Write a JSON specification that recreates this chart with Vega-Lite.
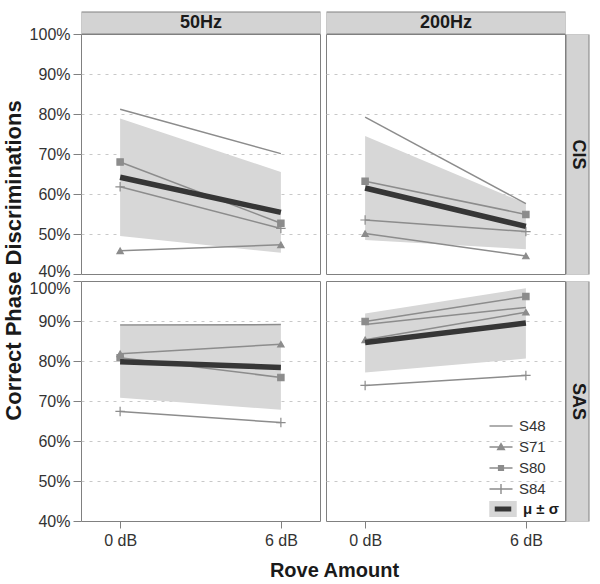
{
  "$schema": "https://vega.github.io/schema/vega-lite/v6.json",
  "padding": {"left": 1, "top": 13, "right": 5, "bottom": 5},
  "config": {
    "font": "Liberation Sans",
    "view": {"stroke": "#808080", "strokeWidth": 1},
    "axis": {"labelFont": "Liberation Sans", "titleFont": "Liberation Sans"},
    "legend": {"labelFont": "Liberation Sans"}
  },
  "datasets": {
    "obs": [
      {"freq": "50Hz", "cond": "CIS", "subject": "S48", "rove": 0, "pct": 81.2},
      {"freq": "50Hz", "cond": "CIS", "subject": "S48", "rove": 6, "pct": 70.1},
      {"freq": "50Hz", "cond": "CIS", "subject": "S71", "rove": 0, "pct": 45.8},
      {"freq": "50Hz", "cond": "CIS", "subject": "S71", "rove": 6, "pct": 47.3},
      {"freq": "50Hz", "cond": "CIS", "subject": "S80", "rove": 0, "pct": 68.0},
      {"freq": "50Hz", "cond": "CIS", "subject": "S80", "rove": 6, "pct": 52.7},
      {"freq": "50Hz", "cond": "CIS", "subject": "S84", "rove": 0, "pct": 61.8},
      {"freq": "50Hz", "cond": "CIS", "subject": "S84", "rove": 6, "pct": 51.4},
      {"freq": "200Hz", "cond": "CIS", "subject": "S48", "rove": 0, "pct": 79.2},
      {"freq": "200Hz", "cond": "CIS", "subject": "S48", "rove": 6, "pct": 57.6},
      {"freq": "200Hz", "cond": "CIS", "subject": "S71", "rove": 0, "pct": 50.1},
      {"freq": "200Hz", "cond": "CIS", "subject": "S71", "rove": 6, "pct": 44.5},
      {"freq": "200Hz", "cond": "CIS", "subject": "S80", "rove": 0, "pct": 63.2},
      {"freq": "200Hz", "cond": "CIS", "subject": "S80", "rove": 6, "pct": 54.9},
      {"freq": "200Hz", "cond": "CIS", "subject": "S84", "rove": 0, "pct": 53.5},
      {"freq": "200Hz", "cond": "CIS", "subject": "S84", "rove": 6, "pct": 50.6},
      {"freq": "50Hz", "cond": "SAS", "subject": "S48", "rove": 0, "pct": 89.0},
      {"freq": "50Hz", "cond": "SAS", "subject": "S48", "rove": 6, "pct": 89.1},
      {"freq": "50Hz", "cond": "SAS", "subject": "S71", "rove": 0, "pct": 81.8},
      {"freq": "50Hz", "cond": "SAS", "subject": "S71", "rove": 6, "pct": 84.2},
      {"freq": "50Hz", "cond": "SAS", "subject": "S80", "rove": 0, "pct": 80.8},
      {"freq": "50Hz", "cond": "SAS", "subject": "S80", "rove": 6, "pct": 75.9},
      {"freq": "50Hz", "cond": "SAS", "subject": "S84", "rove": 0, "pct": 67.4},
      {"freq": "50Hz", "cond": "SAS", "subject": "S84", "rove": 6, "pct": 64.6},
      {"freq": "200Hz", "cond": "SAS", "subject": "S48", "rove": 0, "pct": 89.1},
      {"freq": "200Hz", "cond": "SAS", "subject": "S48", "rove": 6, "pct": 93.4},
      {"freq": "200Hz", "cond": "SAS", "subject": "S71", "rove": 0, "pct": 85.3},
      {"freq": "200Hz", "cond": "SAS", "subject": "S71", "rove": 6, "pct": 92.2},
      {"freq": "200Hz", "cond": "SAS", "subject": "S80", "rove": 0, "pct": 89.9},
      {"freq": "200Hz", "cond": "SAS", "subject": "S80", "rove": 6, "pct": 96.1},
      {"freq": "200Hz", "cond": "SAS", "subject": "S84", "rove": 0, "pct": 73.9},
      {"freq": "200Hz", "cond": "SAS", "subject": "S84", "rove": 6, "pct": 76.4}
    ],
    "stats": [
      {"freq": "50Hz", "cond": "CIS", "rove": 0, "mean": 64.2, "lo": 49.5, "hi": 78.9},
      {"freq": "50Hz", "cond": "CIS", "rove": 6, "mean": 55.4, "lo": 45.3, "hi": 65.5},
      {"freq": "200Hz", "cond": "CIS", "rove": 0, "mean": 61.5, "lo": 48.5, "hi": 74.5},
      {"freq": "200Hz", "cond": "CIS", "rove": 6, "mean": 51.9, "lo": 46.2, "hi": 57.6},
      {"freq": "50Hz", "cond": "SAS", "rove": 0, "mean": 79.8, "lo": 70.8, "hi": 88.8},
      {"freq": "50Hz", "cond": "SAS", "rove": 6, "mean": 78.4, "lo": 67.8, "hi": 89.1},
      {"freq": "200Hz", "cond": "SAS", "rove": 0, "mean": 84.6, "lo": 77.1, "hi": 91.9},
      {"freq": "200Hz", "cond": "SAS", "rove": 6, "mean": 89.5, "lo": 80.6, "hi": 98.2}
    ]
  },
  "columns": 2,
  "spacing": {"row": 7, "column": 6},
  "bounds": "flush",
  "resolve": {"scale": {"shape": "independent", "stroke": "independent"}, "legend": {"shape": "independent", "stroke": "independent"}},
  "concat": [
    {
      "width": 239, "height": 240,
      "resolve": {"axis": {"x": "independent", "y": "independent"}},
      "layer": [
        {
          "data": {"name": "stats"},
          "transform": [{"filter": "datum.freq === '50Hz' && datum.cond === 'CIS'"}],
          "mark": {"type": "area", "color": "#d7d7d7", "opacity": 1},
          "encoding": {
            "x": {"field": "rove", "type": "quantitative", "scale": {"domain": [-1.46, 7.46], "nice": false, "zero": false},
              "axis": {"orient": "top", "offset": 11.5, "domainWidth": 23, "domainColor": "#808080", "labels": false, "ticks": false, "grid": false, "title": null, "zindex": 1}},
            "y": {"field": "lo", "type": "quantitative", "scale": {"domain": [40, 100], "nice": false, "zero": false},
              "axis": {"orient": "left", "values": [40, 50, 60, 70, 80, 90, 100], "labelExpr": "datum.value + '%'", "labelFontSize": 16, "labelColor": "#333333", "labelPadding": 3,
                "labelOffset": {"condition": {"test": "datum.value === 40", "value": -3}, "value": 0},
                "ticks": true, "tickSize": 8, "tickColor": "#808080", "domain": false,
                "grid": true, "gridColor": "#c8c8c8", "gridDash": [3, 5], "gridOpacity": {"condition": {"test": "datum.value === 40 || datum.value === 100", "value": 0}, "value": 1},
                "title": "Correct Phase Discriminations", "titleY": 226, "titleFontSize": 22, "titleFontWeight": "bold", "titleColor": "#1a1a1a", "titlePadding": 4}},
            "y2": {"field": "hi"}
          }
        },
        {
          "data": {"name": "obs"},
          "transform": [{"filter": "datum.freq === '50Hz' && datum.cond === 'CIS'"}],
          "mark": {"type": "line", "color": "#8c8c8c", "strokeWidth": 1.5},
          "encoding": {
            "x": {"field": "rove", "type": "quantitative", "scale": {"domain": [-1.46, 7.46], "nice": false, "zero": false},
              "axis": {"orient": "top", "offset": 11.5, "domainWidth": 21, "domainColor": "#d3d3d3", "labels": false, "ticks": false, "grid": false, "zindex": 2,
                "title": "50Hz", "titleX": 119.5, "titleY": 0, "titleAlign": "center", "titleBaseline": "middle", "titleAngle": 0, "titleFontSize": 18, "titleFontWeight": "bold", "titleColor": "#1a1a1a"}},
            "y": {"field": "pct", "type": "quantitative", "scale": {"domain": [40, 100], "nice": false, "zero": false}, "axis": null},
            "detail": {"field": "subject"}
          }
        },
        {
          "data": {"name": "obs"},
          "transform": [{"filter": "datum.freq === '50Hz' && datum.cond === 'CIS' && datum.subject !== 'S48'"}],
          "mark": {"type": "point", "filled": true, "fill": "#8c8c8c", "stroke": "#8c8c8c", "strokeWidth": 1.2, "size": 40, "opacity": 1},
          "encoding": {
            "x": {"field": "rove", "type": "quantitative", "scale": {"domain": [-1.46, 7.46], "nice": false, "zero": false}, "axis": null},
            "y": {"field": "pct", "type": "quantitative", "scale": {"domain": [40, 100], "nice": false, "zero": false}, "axis": null},
            "shape": {"field": "subject", "type": "nominal", "scale": {"domain": ["S71", "S80", "S84"], "range": ["triangle-up", "square", "M-1.5,0H1.5M0,-1.5V1.5"]}, "legend": null}
          }
        },
        {
          "data": {"name": "stats"},
          "transform": [{"filter": "datum.freq === '50Hz' && datum.cond === 'CIS'"}],
          "mark": {"type": "line", "color": "#363636", "strokeWidth": 5.5},
          "encoding": {
            "x": {"field": "rove", "type": "quantitative", "scale": {"domain": [-1.46, 7.46], "nice": false, "zero": false}, "axis": null},
            "y": {"field": "mean", "type": "quantitative", "scale": {"domain": [40, 100], "nice": false, "zero": false}, "axis": null}
          }
        }
      ]
    },
    {
      "width": 239, "height": 240,
      "resolve": {"axis": {"x": "independent", "y": "independent"}},
      "layer": [
        {
          "data": {"name": "stats"},
          "transform": [{"filter": "datum.freq === '200Hz' && datum.cond === 'CIS'"}],
          "mark": {"type": "area", "color": "#d7d7d7", "opacity": 1},
          "encoding": {
            "x": {"field": "rove", "type": "quantitative", "scale": {"domain": [-1.46, 7.46], "nice": false, "zero": false},
              "axis": {"orient": "top", "offset": 11.5, "domainWidth": 23, "domainColor": "#808080", "labels": false, "ticks": false, "grid": false, "title": null, "zindex": 1}},
            "y": {"field": "lo", "type": "quantitative", "scale": {"domain": [40, 100], "nice": false, "zero": false},
              "axis": {"orient": "left", "values": [40, 50, 60, 70, 80, 90, 100], "labels": false, "ticks": false, "domain": false,
                "grid": true, "gridColor": "#c8c8c8", "gridDash": [3, 5], "gridOpacity": {"condition": {"test": "datum.value === 40 || datum.value === 100", "value": 0}, "value": 1}, "title": null}},
            "y2": {"field": "hi"}
          }
        },
        {
          "data": {"name": "obs"},
          "transform": [{"filter": "datum.freq === '200Hz' && datum.cond === 'CIS'"}],
          "mark": {"type": "line", "color": "#8c8c8c", "strokeWidth": 1.5},
          "encoding": {
            "x": {"field": "rove", "type": "quantitative", "scale": {"domain": [-1.46, 7.46], "nice": false, "zero": false},
              "axis": {"orient": "top", "offset": 11.5, "domainWidth": 21, "domainColor": "#d3d3d3", "labels": false, "ticks": false, "grid": false, "zindex": 2,
                "title": "200Hz", "titleX": 119.5, "titleY": 0, "titleAlign": "center", "titleBaseline": "middle", "titleAngle": 0, "titleFontSize": 18, "titleFontWeight": "bold", "titleColor": "#1a1a1a"}},
            "y": {"field": "pct", "type": "quantitative", "scale": {"domain": [40, 100], "nice": false, "zero": false},
              "axis": {"orient": "right", "offset": 12, "domainWidth": 24, "domainColor": "#808080", "labels": false, "ticks": false, "grid": false, "title": null, "zindex": 1}},
            "detail": {"field": "subject"}
          }
        },
        {
          "data": {"name": "obs"},
          "transform": [{"filter": "datum.freq === '200Hz' && datum.cond === 'CIS' && datum.subject !== 'S48'"}],
          "mark": {"type": "point", "filled": true, "fill": "#8c8c8c", "stroke": "#8c8c8c", "strokeWidth": 1.2, "size": 40, "opacity": 1},
          "encoding": {
            "x": {"field": "rove", "type": "quantitative", "scale": {"domain": [-1.46, 7.46], "nice": false, "zero": false}, "axis": null},
            "y": {"field": "pct", "type": "quantitative", "scale": {"domain": [40, 100], "nice": false, "zero": false},
              "axis": {"orient": "right", "offset": 12, "domainWidth": 22, "domainColor": "#d3d3d3", "labels": false, "ticks": false, "grid": false, "zindex": 2,
                "title": "CIS", "titleX": 0, "titleY": 120, "titleAngle": 90, "titleAlign": "center", "titleBaseline": "middle", "titleFontSize": 18, "titleFontWeight": "bold", "titleColor": "#1a1a1a"}},
            "shape": {"field": "subject", "type": "nominal", "scale": {"domain": ["S71", "S80", "S84"], "range": ["triangle-up", "square", "M-1.5,0H1.5M0,-1.5V1.5"]}, "legend": null}
          }
        },
        {
          "data": {"name": "stats"},
          "transform": [{"filter": "datum.freq === '200Hz' && datum.cond === 'CIS'"}],
          "mark": {"type": "line", "color": "#363636", "strokeWidth": 5.5},
          "encoding": {
            "x": {"field": "rove", "type": "quantitative", "scale": {"domain": [-1.46, 7.46], "nice": false, "zero": false}, "axis": null},
            "y": {"field": "mean", "type": "quantitative", "scale": {"domain": [40, 100], "nice": false, "zero": false}, "axis": null}
          }
        }
      ]
    },
    {
      "width": 239, "height": 240,
      "resolve": {"axis": {"x": "independent", "y": "independent"}},
      "layer": [
        {
          "data": {"name": "stats"},
          "transform": [{"filter": "datum.freq === '50Hz' && datum.cond === 'SAS'"}],
          "mark": {"type": "area", "color": "#d7d7d7", "opacity": 1},
          "encoding": {
            "x": {"field": "rove", "type": "quantitative", "scale": {"domain": [-1.46, 7.46], "nice": false, "zero": false},
              "axis": {"orient": "bottom", "values": [0, 6], "labelExpr": "datum.value + ' dB'", "labelFontSize": 16, "labelColor": "#333333", "labelPadding": 4,
                "tickSize": 7, "tickColor": "#808080", "domain": false, "grid": false,
                "title": "Rove Amount", "titleX": 253, "titleFontSize": 20, "titleFontWeight": "bold", "titleColor": "#1a1a1a", "titlePadding": 12}},
            "y": {"field": "lo", "type": "quantitative", "scale": {"domain": [40, 100], "nice": false, "zero": false},
              "axis": {"orient": "left", "values": [40, 50, 60, 70, 80, 90, 100], "labelExpr": "datum.value + '%'", "labelFontSize": 16, "labelColor": "#333333", "labelPadding": 3,
                "labelOffset": {"condition": {"test": "datum.value === 100", "value": 7}, "value": 0},
                "ticks": true, "tickSize": 8, "tickColor": "#808080", "domain": false,
                "grid": true, "gridColor": "#c8c8c8", "gridDash": [3, 5], "gridOpacity": {"condition": {"test": "datum.value === 40 || datum.value === 100", "value": 0}, "value": 1},
                "title": null}},
            "y2": {"field": "hi"}
          }
        },
        {
          "data": {"name": "obs"},
          "transform": [{"filter": "datum.freq === '50Hz' && datum.cond === 'SAS'"}],
          "mark": {"type": "line", "color": "#8c8c8c", "strokeWidth": 1.5},
          "encoding": {
            "x": {"field": "rove", "type": "quantitative", "scale": {"domain": [-1.46, 7.46], "nice": false, "zero": false}, "axis": null},
            "y": {"field": "pct", "type": "quantitative", "scale": {"domain": [40, 100], "nice": false, "zero": false}, "axis": null},
            "detail": {"field": "subject"}
          }
        },
        {
          "data": {"name": "obs"},
          "transform": [{"filter": "datum.freq === '50Hz' && datum.cond === 'SAS' && datum.subject !== 'S48'"}],
          "mark": {"type": "point", "filled": true, "fill": "#8c8c8c", "stroke": "#8c8c8c", "strokeWidth": 1.2, "size": 40, "opacity": 1},
          "encoding": {
            "x": {"field": "rove", "type": "quantitative", "scale": {"domain": [-1.46, 7.46], "nice": false, "zero": false}, "axis": null},
            "y": {"field": "pct", "type": "quantitative", "scale": {"domain": [40, 100], "nice": false, "zero": false}, "axis": null},
            "shape": {"field": "subject", "type": "nominal", "scale": {"domain": ["S71", "S80", "S84"], "range": ["triangle-up", "square", "M-1.5,0H1.5M0,-1.5V1.5"]}, "legend": null}
          }
        },
        {
          "data": {"name": "stats"},
          "transform": [{"filter": "datum.freq === '50Hz' && datum.cond === 'SAS'"}],
          "mark": {"type": "line", "color": "#363636", "strokeWidth": 5.5},
          "encoding": {
            "x": {"field": "rove", "type": "quantitative", "scale": {"domain": [-1.46, 7.46], "nice": false, "zero": false}, "axis": null},
            "y": {"field": "mean", "type": "quantitative", "scale": {"domain": [40, 100], "nice": false, "zero": false}, "axis": null}
          }
        }
      ]
    },
    {
      "width": 239, "height": 240,
      "resolve": {"axis": {"x": "independent", "y": "independent"}, "scale": {"shape": "independent", "stroke": "independent"}, "legend": {"shape": "independent", "stroke": "independent"}},
      "layer": [
        {
          "data": {"name": "stats"},
          "transform": [{"filter": "datum.freq === '200Hz' && datum.cond === 'SAS'"}],
          "mark": {"type": "area", "color": "#d7d7d7", "opacity": 1},
          "encoding": {
            "x": {"field": "rove", "type": "quantitative", "scale": {"domain": [-1.46, 7.46], "nice": false, "zero": false},
              "axis": {"orient": "bottom", "values": [0, 6], "labelExpr": "datum.value + ' dB'", "labelFontSize": 16, "labelColor": "#333333", "labelPadding": 4,
                "tickSize": 7, "tickColor": "#808080", "domain": false, "grid": false, "title": null}},
            "y": {"field": "lo", "type": "quantitative", "scale": {"domain": [40, 100], "nice": false, "zero": false},
              "axis": {"orient": "left", "values": [40, 50, 60, 70, 80, 90, 100], "labels": false, "ticks": false, "domain": false,
                "grid": true, "gridColor": "#c8c8c8", "gridDash": [3, 5], "gridOpacity": {"condition": {"test": "datum.value === 40 || datum.value === 100", "value": 0}, "value": 1}, "title": null}},
            "y2": {"field": "hi"}
          }
        },
        {
          "data": {"name": "obs"},
          "transform": [{"filter": "datum.freq === '200Hz' && datum.cond === 'SAS'"}],
          "mark": {"type": "line", "color": "#8c8c8c", "strokeWidth": 1.5},
          "encoding": {
            "x": {"field": "rove", "type": "quantitative", "scale": {"domain": [-1.46, 7.46], "nice": false, "zero": false}, "axis": null},
            "y": {"field": "pct", "type": "quantitative", "scale": {"domain": [40, 100], "nice": false, "zero": false},
              "axis": {"orient": "right", "offset": 12, "domainWidth": 24, "domainColor": "#808080", "labels": false, "ticks": false, "grid": false, "title": null, "zindex": 1}},
            "detail": {"field": "subject"}
          }
        },
        {
          "data": {"name": "obs"},
          "transform": [{"filter": "datum.freq === '200Hz' && datum.cond === 'SAS' && datum.subject !== 'S48'"}],
          "mark": {"type": "point", "filled": true, "fill": "#8c8c8c", "stroke": "#8c8c8c", "strokeWidth": 1.2, "size": 40, "opacity": 1},
          "encoding": {
            "x": {"field": "rove", "type": "quantitative", "scale": {"domain": [-1.46, 7.46], "nice": false, "zero": false}, "axis": null},
            "y": {"field": "pct", "type": "quantitative", "scale": {"domain": [40, 100], "nice": false, "zero": false},
              "axis": {"orient": "right", "offset": 12, "domainWidth": 22, "domainColor": "#d3d3d3", "labels": false, "ticks": false, "grid": false, "zindex": 2,
                "title": "SAS", "titleX": 0, "titleY": 120, "titleAngle": 90, "titleAlign": "center", "titleBaseline": "middle", "titleFontSize": 18, "titleFontWeight": "bold", "titleColor": "#1a1a1a"}},
            "shape": {"field": "subject", "type": "nominal", "scale": {"domain": ["S71", "S80", "S84"], "range": ["triangle-up", "square", "M-1.5,0H1.5M0,-1.5V1.5"]}, "legend": null}
          }
        },
        {
          "data": {"name": "stats"},
          "transform": [{"filter": "datum.freq === '200Hz' && datum.cond === 'SAS'"}],
          "mark": {"type": "line", "color": "#363636", "strokeWidth": 5.5},
          "encoding": {
            "x": {"field": "rove", "type": "quantitative", "scale": {"domain": [-1.46, 7.46], "nice": false, "zero": false}, "axis": null},
            "y": {"field": "mean", "type": "quantitative", "scale": {"domain": [40, 100], "nice": false, "zero": false}, "axis": null}
          }
        },
        {
          "data": {"name": "obs"},
          "transform": [{"filter": "false"}],
          "mark": {"type": "point", "filled": true, "fill": "#8c8c8c", "strokeWidth": 1.4},
          "encoding": {
            "shape": {"field": "subject", "type": "nominal",
              "scale": {"domain": ["S48", "S71", "S80", "S84"],
                "range": ["M-1.44,0H1.44", "M-1.44,0H1.44M0,-0.42L0.42,0.32L-0.42,0.32Z", "M-1.44,0H1.44M-0.3,-0.3H0.3V0.3H-0.3Z", "M-1.44,0H1.44M0,-0.62V0.62"]},
              "legend": {"title": null, "orient": "none", "legendX": 166, "legendY": 136, "padding": 0, "symbolSize": 256, "labelFontSize": 15, "labelColor": "#333333", "labelOffset": 9, "rowPadding": 4,
                "symbolStrokeWidth": 1.4, "symbolOpacity": 1}
            },
            "stroke": {"field": "subject", "type": "nominal",
              "scale": {"domain": ["S48", "S71", "S80", "S84"], "range": ["#8c8c8c", "#8c8c8c", "#8c8c8c", "#8c8c8c"]},
              "legend": {"title": null, "orient": "none", "legendX": 166, "legendY": 136, "padding": 0, "symbolSize": 256, "labelFontSize": 15, "labelColor": "#333333", "labelOffset": 9, "rowPadding": 4,
                "symbolStrokeWidth": 1.4, "symbolOpacity": 1}
            }
          }
        },
        {
          "data": {"name": "stats"},
          "transform": [{"filter": "false"}],
          "mark": {"type": "point", "filled": true, "fill": "#363636", "strokeWidth": 5.5},
          "encoding": {
            "shape": {"datum": "μ ± σ", "type": "nominal",
              "scale": {"domain": ["μ ± σ"], "range": ["M-1.375,-0.656H1.375V0.656H-1.375Z"]},
              "legend": {"title": null, "orient": "none", "legendX": 166, "legendY": 217, "padding": 0, "symbolSize": 256, "labelFontSize": 15, "labelFontWeight": "bold", "labelColor": "#1a1a1a", "labelOffset": 9,
                "symbolStrokeWidth": 5.5, "symbolOpacity": 1}
            },
            "stroke": {"datum": "μ ± σ", "type": "nominal",
              "scale": {"domain": ["μ ± σ"], "range": ["#d7d7d7"]},
              "legend": {"title": null, "orient": "none", "legendX": 166, "legendY": 217, "padding": 0, "symbolSize": 256, "labelFontSize": 15, "labelFontWeight": "bold", "labelColor": "#1a1a1a", "labelOffset": 9,
                "symbolStrokeWidth": 5.5, "symbolOpacity": 1}
            }
          }
        }
      ]
    }
  ]
}
